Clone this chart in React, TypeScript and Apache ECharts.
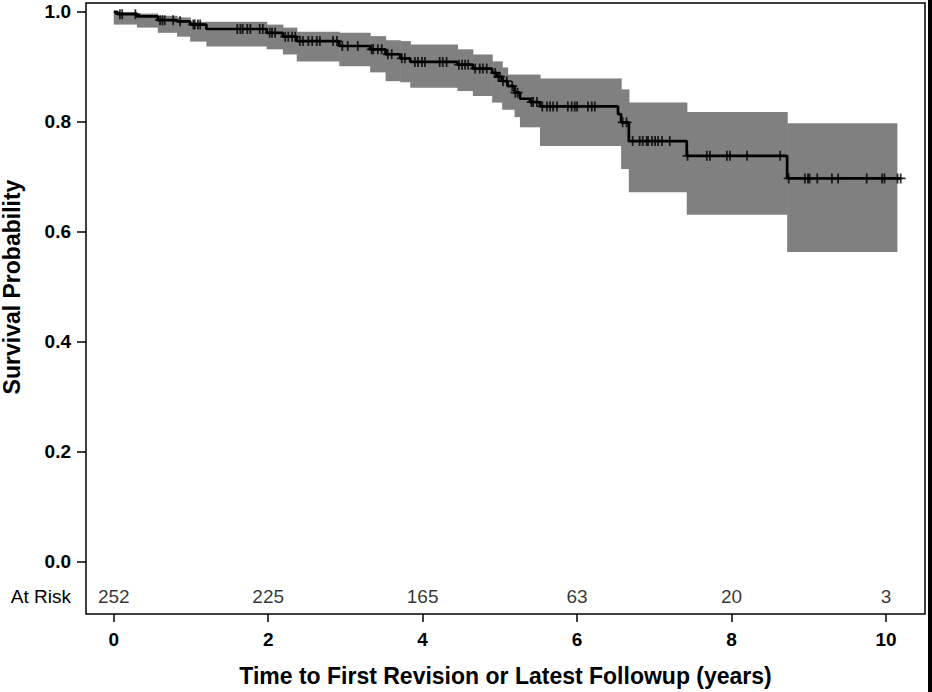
import React, { useEffect, useRef } from "react";
import * as echarts from "echarts";

// Kaplan-Meier step function (time in years, survival after event)
const stepTimes = [0, 0.05, 0.30, 0.57, 0.82, 0.99, 1.20, 1.98, 2.19, 2.37, 2.92, 3.32, 3.52, 3.71, 3.84, 4.45, 4.65, 4.90, 4.96, 5.03, 5.10, 5.19, 5.26, 5.39, 5.52, 6.53, 6.57, 6.67, 7.42, 8.72];
const survival = [1.000, 0.996, 0.992, 0.985, 0.983, 0.977, 0.969, 0.962, 0.955, 0.947, 0.938, 0.932, 0.923, 0.9155, 0.909, 0.904, 0.897, 0.889, 0.882, 0.874, 0.865, 0.853, 0.842, 0.836, 0.828, 0.814, 0.799, 0.765, 0.738, 0.697];
const lowerCI = [0.977, 0.977, 0.9715, 0.962, 0.955, 0.946, 0.937, 0.932, 0.9226, 0.910, 0.901, 0.890, 0.874, 0.872, 0.862, 0.856, 0.847, 0.835, 0.835, 0.822, 0.822, 0.8085, 0.790, 0.790, 0.756, 0.756, 0.714, 0.672, 0.631, 0.563];
const upperCI = [1.000, 1.000, 0.997, 0.993, 0.990, 0.982, 0.982, 0.977, 0.9715, 0.964, 0.962, 0.956, 0.9485, 0.947, 0.9407, 0.932, 0.9226, 0.910, 0.910, 0.899, 0.886, 0.886, 0.886, 0.886, 0.879, 0.879, 0.859, 0.835, 0.818, 0.7975];
const bandEnd = 10.14;
const lineEnd = 10.19;

// Censored observations (years)
const censorTimes = [0.08, 0.11, 0.28, 0.60, 0.63, 0.66, 0.77, 0.86, 1.03, 1.05, 1.09, 1.12, 1.60, 1.64, 1.67, 1.73, 1.77, 1.89, 1.93, 2.02, 2.05, 2.09, 2.22, 2.26, 2.31, 2.35, 2.41, 2.45, 2.52, 2.57, 2.63, 2.67, 2.84, 2.89, 2.96, 3.03, 3.16, 3.34, 3.36, 3.42, 3.47, 3.55, 3.60, 3.73, 3.77, 3.90, 3.94, 3.99, 4.03, 4.22, 4.26, 4.31, 4.47, 4.51, 4.55, 4.59, 4.68, 4.74, 4.78, 4.83, 4.94, 4.98, 5.00, 5.04, 5.09, 5.16, 5.20, 5.23, 5.41, 5.43, 5.48, 5.55, 5.61, 5.65, 5.69, 5.74, 5.88, 5.93, 5.97, 6.00, 6.14, 6.19, 6.23, 6.59, 6.64, 6.72, 6.81, 6.85, 6.90, 6.92, 6.97, 7.01, 7.05, 7.10, 7.20, 7.43, 7.68, 7.72, 7.94, 7.98, 8.20, 8.63, 8.74, 8.95, 8.99, 9.01, 9.11, 9.30, 9.38, 9.75, 9.95, 9.98, 10.15, 10.19];

// Numbers at risk
const atRiskTimes = [0, 2, 4, 6, 8, 10];
const atRiskCounts = [252, 225, 165, 63, 20, 3];

const xTicks = [0, 2, 4, 6, 8, 10];
const yTicks = [0, 0.2, 0.4, 0.6, 0.8, 1.0];

const AT_RISK_LEVEL = -0.0634;
const FONT = "'Liberation Sans', Arial, sans-serif";

function survivalAt(t: number): number {
  let s = survival[0];
  for (let i = 0; i < stepTimes.length; i++) {
    if (stepTimes[i] <= t) s = survival[i];
  }
  return s;
}

export default function App() {
  const ref = useRef<HTMLDivElement>(null);

  useEffect(() => {
    if (!ref.current) return;
    const chart = echarts.init(ref.current, null, { renderer: "svg" });

    const bandData = stepTimes.map((t, i) => [
      t,
      i + 1 < stepTimes.length ? stepTimes[i + 1] : bandEnd,
      lowerCI[i],
      upperCI[i],
    ]);

    const kmData = stepTimes.map((t, i) => [t, survival[i]]);
    kmData.push([lineEnd, survival[survival.length - 1]]);

    const option: any = {
      animation: false,
      backgroundColor: "#fff",
      grid: {
        left: 86,
        right: 7,
        top: 3,
        bottom: 75,
        show: true,
        borderColor: "#000",
        borderWidth: 1.5,
        backgroundColor: "transparent",
      },
      xAxis: {
        type: "value",
        min: -0.359,
        max: 10.505,
        axisLine: { show: false, onZero: false },
        splitLine: { show: false },
        axisTick: {
          show: true,
          customValues: xTicks,
          length: 8,
          lineStyle: { color: "#000", width: 1.5 },
        },
        axisLabel: {
          customValues: xTicks,
          margin: 16,
          fontSize: 19,
          fontWeight: "bold",
          color: "#000",
          fontFamily: FONT,
          formatter: (v: number) => String(v),
        },
        name: "Time to First Revision or Latest Followup (years)",
        nameLocation: "middle",
        nameGap: 50,
        nameTextStyle: { fontSize: 23, fontWeight: "bold", color: "#000", fontFamily: FONT },
      },
      yAxis: {
        type: "value",
        min: -0.096,
        max: 1.0163,
        axisLine: { show: false, onZero: false },
        splitLine: { show: false },
        axisTick: {
          show: true,
          customValues: yTicks,
          length: 9,
          lineStyle: { color: "#000", width: 1.5 },
        },
        axisLabel: {
          customValues: [AT_RISK_LEVEL, ...yTicks],
          margin: 15,
          fontSize: 19,
          fontWeight: "bold",
          color: "#000",
          fontFamily: FONT,
          formatter: (v: number) => (v < 0 ? "{r|At Risk}" : v.toFixed(1)),
          rich: {
            r: { fontSize: 19, fontWeight: "normal", color: "#000", fontFamily: FONT },
          },
        },
      },
      graphic: [
        {
          type: "text",
          x: 12,
          y: 287,
          rotation: Math.PI / 2,
          style: {
            text: "Survival Probability",
            fontSize: 23,
            fontWeight: "bold",
            fontFamily: FONT,
            fill: "#000",
            align: "center",
            verticalAlign: "middle",
          },
        },
        {
          type: "rect",
          shape: { x: 928, y: 0, width: 4, height: 692 },
          style: { fill: "#000" },
        },
      ],
      series: [
        {
          type: "custom",
          silent: true,
          z: 1,
          encode: { x: [0, 1], y: [2, 3] },
          data: bandData,
          renderItem: (params: any, api: any) => {
            const x0 = api.value(0);
            const x1 = api.value(1);
            const lo = api.value(2);
            const hi = api.value(3);
            const p0 = api.coord([x0, hi]);
            const p1 = api.coord([x1, lo]);
            return {
              type: "rect",
              shape: {
                x: p0[0],
                y: p0[1],
                width: p1[0] - p0[0] + 0.6,
                height: p1[1] - p0[1],
              },
              style: { fill: "#808080" },
            };
          },
        },
        {
          type: "line",
          step: "end",
          symbol: "none",
          silent: true,
          lineStyle: { color: "#000", width: 2.7 },
          data: kmData,
          z: 3,
        },
        {
          type: "scatter",
          symbol: "path://M5,0L5,10M0,5L10,5",
          symbolSize: [10, 10],
          silent: true,
          itemStyle: { color: "transparent", borderColor: "#000", borderWidth: 1.8 },
          data: censorTimes.map((t) => [t, survivalAt(t)]),
          z: 4,
        },
        {
          type: "scatter",
          symbolSize: 1,
          silent: true,
          itemStyle: { color: "rgba(0,0,0,0)" },
          label: {
            show: true,
            position: "inside",
            fontSize: 19,
            color: "#000",
            fontFamily: FONT,
            formatter: (p: any) => String(p.value[2]),
          },
          data: atRiskTimes.map((t, i) => [t, AT_RISK_LEVEL, atRiskCounts[i]]),
          z: 5,
        },
      ],
    };

    chart.setOption(option);
    return () => chart.dispose();
  }, []);

  return (
    <div
      ref={ref}
      style={{ position: "absolute", left: 0, top: 0, width: 932, height: 692 }}
    />
  );
}
